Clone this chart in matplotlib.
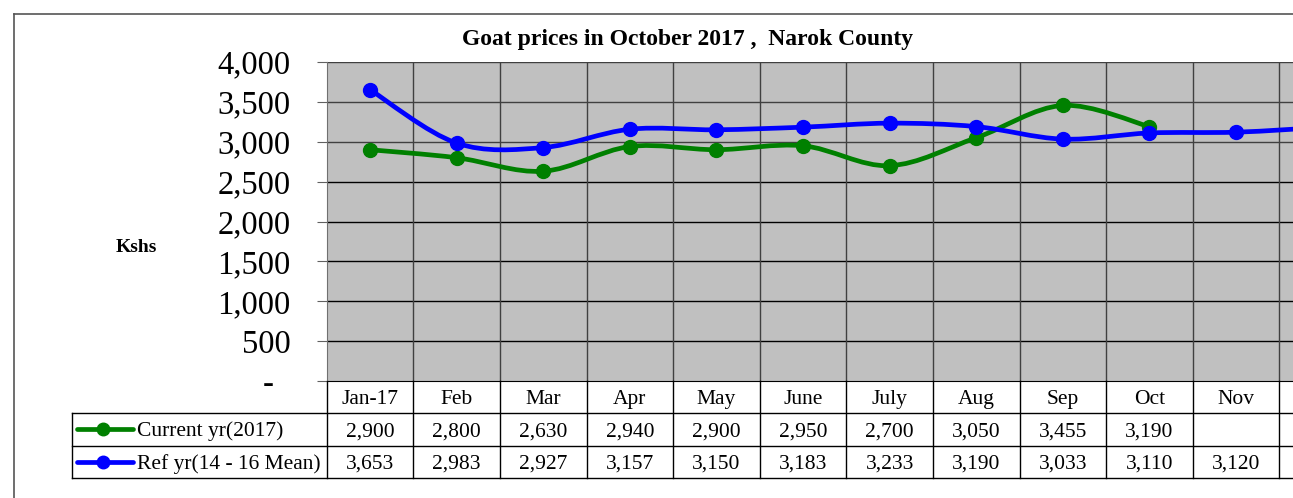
import numpy as np
import matplotlib
matplotlib.use('Agg')
import matplotlib.pyplot as plt
from matplotlib.path import Path
from matplotlib.patches import PathPatch
from matplotlib.lines import Line2D

plt.rcParams['font.family'] = ['Liberation Serif', 'DejaVu Serif']

# chart data
months = ['Jan-17', 'Feb', 'Mar', 'Apr', 'May', 'June', 'July', 'Aug', 'Sep', 'Oct', 'Nov', 'Dec']
current_2017 = [2900, 2800, 2630, 2940, 2900, 2950, 2700, 3050, 3455, 3190, None, None]
ref_mean = [3653, 2983, 2927, 3157, 3150, 3183, 3233, 3190, 3033, 3110, 3120, 3180]
series_names = ['Current yr(2017)', 'Ref yr(14 - 16 Mean)']
series_colors = ['#008000', '#0000ff']
yticks = [0, 500, 1000, 1500, 2000, 2500, 3000, 3500, 4000]

W, H = 1293, 498
fig = plt.figure(figsize=(W / 100, H / 100), dpi=100)

# plot area in pixels (it runs past the right edge of the picture, like the source crop)
col_w = 86.6
x0, ytop, ybot = 326.7, 62, 381
ax = fig.add_axes([x0 / W, 1 - ybot / H, len(months) * col_w / W, (ybot - ytop) / H])
ax.set_facecolor('#c0c0c0')
ax.set_xlim(-0.5, len(months) - 0.5)
ax.set_ylim(0, 4000)
ax.set_yticks(yticks)
ax.set_yticklabels([f'{v:,}' if v else '-  ' for v in yticks], fontsize=23.5)
ax.tick_params(axis='y', length=7, color='#606060', pad=19)
ax.set_xticks([])
for v in yticks[1:]:
    ax.axhline(v, color='#000000' if v < 3000 else '#404040', lw=1, zorder=1)
for i in range(len(months) - 1):
    ax.axvline(i + 0.5, color='#404040', lw=1, zorder=1)
for s in ['top', 'right']:
    ax.spines[s].set_visible(False)
ax.spines['left'].set_color('#707070')
ax.spines['bottom'].set_color('#000000')


def smooth_path(xs, ys):
    pts = np.column_stack([xs, ys]).astype(float)
    verts = [pts[0]]
    codes = [Path.MOVETO]
    n = len(pts)
    for i in range(n - 1):
        p0 = pts[max(i - 1, 0)]
        p1 = pts[i]
        p2 = pts[i + 1]
        p3 = pts[min(i + 2, n - 1)]
        verts += [p1 + (p2 - p0) / 6, p2 - (p3 - p1) / 6, p2]
        codes += [Path.CURVE4] * 3
    return Path(verts, codes)


for vals, col in zip([current_2017, ref_mean], series_colors):
    xs = [i for i, v in enumerate(vals) if v is not None]
    ys = [v for v in vals if v is not None]
    ax.add_patch(PathPatch(smooth_path(xs, ys), fc='none', ec=col, lw=3.4,
                           zorder=3, capstyle='round', joinstyle='round'))
    ax.plot(xs, ys, 'o', color=col, ms=10, zorder=4, clip_on=False)

# data table below the plot
tr = ax.get_xaxis_transform()
px = 1.0 / (ybot - ytop)
rows = [0, -32 * px, -65 * px, -97 * px]
left = -0.5 - (x0 - 72) / col_w
right = len(months) - 0.5
lk = dict(transform=tr, clip_on=False, lw=1)
for r in rows[1:]:
    ax.plot([left, right], [r, r], color='#000000', **lk)
ax.plot([left, left], [rows[1], rows[3]], color='#000000', **lk)
for i in range(len(months) + 1):
    ax.plot([i - 0.5, i - 0.5], [rows[0], rows[3]], color='#000000', **lk)

# only the columns that fall inside the picture get their text
shown = [i for i in range(len(months)) if x0 + (i + 0.5) * col_w < W]
tk = dict(transform=tr, ha='center', va='center_baseline', fontsize=15.5)
for i in shown:
    ax.text(i, (rows[0] + rows[1]) / 2, months[i], **tk)
for r, vals in enumerate([current_2017, ref_mean]):
    yc = (rows[r + 1] + rows[r + 2]) / 2
    for i in shown:
        if vals[i] is not None:
            ax.text(i, yc, f'{vals[i]:,}', **tk)

# legend keys inside the table
for r, (name, col) in enumerate(zip(series_names, series_colors)):
    yp = 1 - ((413 + 32.5 * r) + 16) / H
    fig.add_artist(Line2D([77 / W, 133 / W], [yp, yp], color=col, lw=3.4,
                          solid_capstyle='round', transform=fig.transFigure))
    fig.add_artist(Line2D([103 / W], [yp], marker='o', ms=9, color=col,
                          transform=fig.transFigure))
    fig.text(137 / W, yp, name, ha='left', va='center_baseline', fontsize=15.5)

# titles and chart frame
fig.text(688 / W, 1 - 37 / H, 'Goat prices in October 2017 ,  Narok County',
         ha='center', va='center_baseline', fontsize=17, fontweight='bold')
fig.text(136 / W, 1 - 246 / H, 'Kshs', ha='center', va='center_baseline', fontsize=14, fontweight='bold')
fig.add_artist(Line2D([14 / W, 1], [1 - 14 / H, 1 - 14 / H], color='#555555', lw=1.2,
                      transform=fig.transFigure))
fig.add_artist(Line2D([14 / W, 14 / W], [1 - 14 / H, 0], color='#555555', lw=1.2,
                      transform=fig.transFigure))

fig.savefig('out.png', dpi=100)
